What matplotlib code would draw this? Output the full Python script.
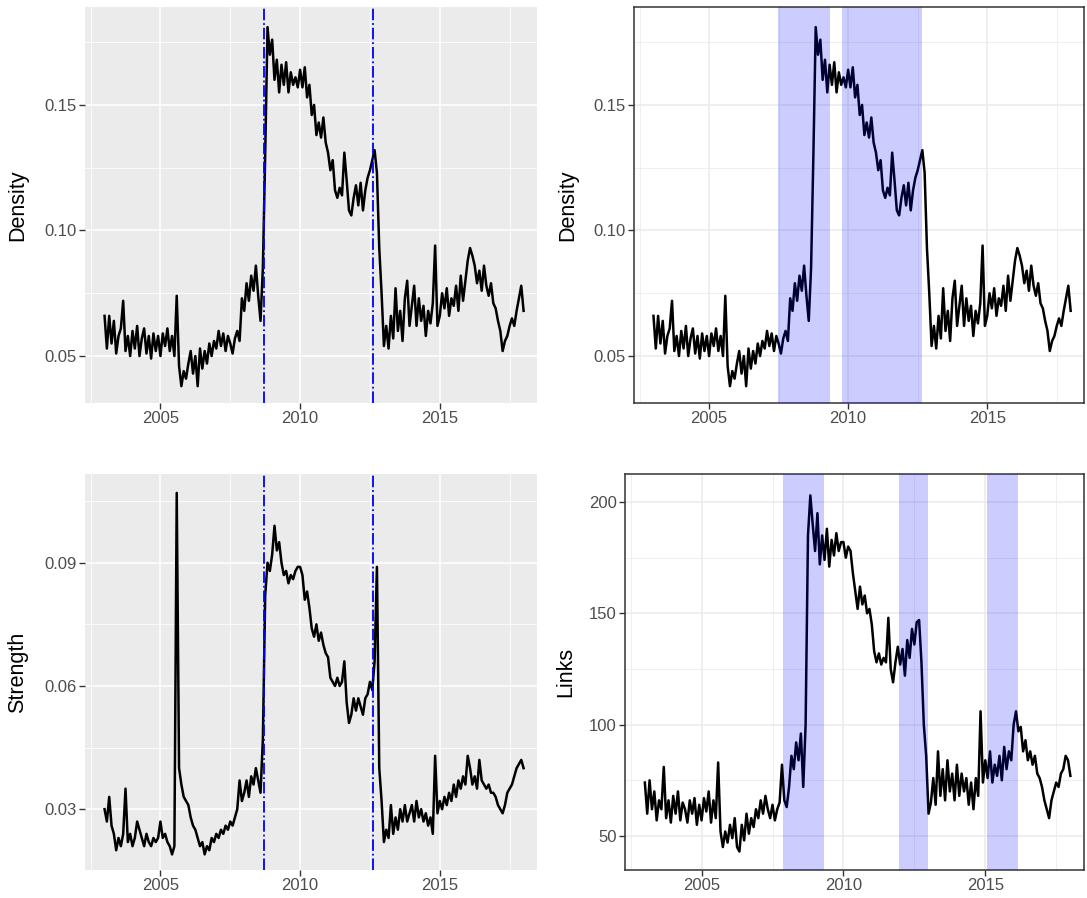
import numpy as np
import matplotlib
matplotlib.use('Agg')
import matplotlib.pyplot as plt
from matplotlib.ticker import FixedLocator

plt.rcParams['font.family'] = ['Liberation Sans', 'DejaVu Sans']

# monthly observations, Jan 2003 .. Jan 2018
density = [
    0.066, 0.053, 0.066, 0.055, 0.064, 0.051, 0.058, 0.061, 0.072, 0.052, 0.058, 0.050,  # 2003
    0.060, 0.053, 0.062, 0.050, 0.057, 0.061, 0.051, 0.058, 0.049, 0.059, 0.052, 0.058,  # 2004
    0.050, 0.059, 0.054, 0.061, 0.052, 0.058, 0.050, 0.074, 0.046, 0.038, 0.044, 0.041,  # 2005
    0.047, 0.052, 0.043, 0.050, 0.038, 0.053, 0.045, 0.052, 0.047, 0.055, 0.050, 0.056,  # 2006
    0.053, 0.060, 0.054, 0.059, 0.052, 0.058, 0.055, 0.051, 0.057, 0.060, 0.056, 0.073,  # 2007
    0.068, 0.079, 0.072, 0.082, 0.076, 0.086, 0.074, 0.064, 0.085, 0.130, 0.181, 0.170,  # 2008
    0.176, 0.160, 0.168, 0.155, 0.166, 0.158, 0.167, 0.155, 0.163, 0.158, 0.161, 0.157,  # 2009
    0.164, 0.157, 0.165, 0.153, 0.158, 0.146, 0.150, 0.138, 0.143, 0.137, 0.145, 0.135,  # 2010
    0.131, 0.124, 0.128, 0.116, 0.113, 0.117, 0.114, 0.131, 0.120, 0.108, 0.106, 0.113,  # 2011
    0.118, 0.110, 0.119, 0.108, 0.116, 0.121, 0.124, 0.128, 0.132, 0.123, 0.093, 0.075,  # 2012
    0.054, 0.062, 0.053, 0.066, 0.057, 0.077, 0.060, 0.068, 0.056, 0.073, 0.080, 0.062,  # 2013
    0.070, 0.078, 0.062, 0.073, 0.064, 0.070, 0.058, 0.068, 0.063, 0.071, 0.094, 0.062,  # 2014
    0.066, 0.075, 0.069, 0.077, 0.066, 0.073, 0.070, 0.078, 0.068, 0.082, 0.072, 0.080,  # 2015
    0.088, 0.093, 0.090, 0.086, 0.079, 0.084, 0.076, 0.086, 0.078, 0.074, 0.079, 0.071,  # 2016
    0.069, 0.064, 0.060, 0.052, 0.056, 0.058, 0.062, 0.065, 0.062, 0.068, 0.073, 0.078,  # 2017
    0.068,
]

strength = [
    0.030, 0.027, 0.033, 0.026, 0.024, 0.020, 0.023, 0.021, 0.024, 0.035, 0.022, 0.024,  # 2003
    0.021, 0.023, 0.027, 0.025, 0.023, 0.021, 0.024, 0.022, 0.021, 0.023, 0.022, 0.023,  # 2004
    0.027, 0.023, 0.024, 0.022, 0.021, 0.019, 0.021, 0.107, 0.040, 0.036, 0.033, 0.032,  # 2005
    0.031, 0.028, 0.026, 0.025, 0.023, 0.021, 0.022, 0.019, 0.021, 0.020, 0.023, 0.022,  # 2006
    0.024, 0.023, 0.025, 0.024, 0.026, 0.025, 0.027, 0.026, 0.028, 0.030, 0.037, 0.032,  # 2007
    0.034, 0.037, 0.033, 0.038, 0.036, 0.040, 0.037, 0.034, 0.047, 0.082, 0.090, 0.088,  # 2008
    0.092, 0.099, 0.093, 0.095, 0.090, 0.087, 0.088, 0.085, 0.087, 0.086, 0.088, 0.089,  # 2009
    0.089, 0.087, 0.081, 0.083, 0.079, 0.074, 0.072, 0.075, 0.071, 0.073, 0.070, 0.068,  # 2010
    0.067, 0.062, 0.061, 0.060, 0.062, 0.060, 0.061, 0.066, 0.056, 0.051, 0.053, 0.057,  # 2011
    0.054, 0.057, 0.055, 0.053, 0.057, 0.058, 0.061, 0.059, 0.066, 0.089, 0.040, 0.032,  # 2012
    0.022, 0.025, 0.023, 0.031, 0.024, 0.028, 0.025, 0.030, 0.027, 0.031, 0.027, 0.029,  # 2013
    0.031, 0.027, 0.032, 0.028, 0.030, 0.027, 0.029, 0.026, 0.028, 0.024, 0.043, 0.029,  # 2014
    0.032, 0.030, 0.033, 0.031, 0.034, 0.032, 0.036, 0.033, 0.037, 0.035, 0.038, 0.036,  # 2015
    0.043, 0.040, 0.036, 0.038, 0.035, 0.042, 0.037, 0.036, 0.035, 0.036, 0.034, 0.034,  # 2016
    0.033, 0.031, 0.030, 0.029, 0.031, 0.034, 0.035, 0.036, 0.038, 0.040, 0.041, 0.042,  # 2017
    0.040,
]

links = [
    74, 60, 75, 62, 70, 57, 66, 62, 81, 58, 66, 56,            # 2003
    68, 60, 70, 57, 65, 62, 56, 66, 60, 67, 55, 64,            # 2004
    57, 67, 61, 70, 56, 66, 58, 83, 52, 45, 52, 47,            # 2005
    55, 49, 58, 45, 43, 55, 48, 60, 51, 58, 54, 62,            # 2006
    58, 66, 60, 68, 62, 58, 64, 57, 62, 65, 82, 66,            # 2007
    63, 72, 86, 80, 92, 84, 96, 72, 100, 185, 203, 190,        # 2008
    178, 195, 172, 185, 174, 188, 171, 183, 176, 186, 178, 182,  # 2009
    182, 175, 180, 178, 168, 160, 152, 162, 154, 158, 150, 152,  # 2010
    145, 133, 128, 132, 127, 130, 128, 148, 125, 119, 128, 135,  # 2011
    127, 134, 122, 138, 130, 143, 136, 146, 147, 128, 100, 86,   # 2012
    60, 65, 76, 64, 88, 68, 80, 66, 84, 70, 78, 66,            # 2013
    82, 68, 78, 70, 76, 64, 74, 62, 76, 68, 106, 74,           # 2014
    84, 76, 88, 74, 82, 77, 86, 75, 90, 80, 88, 84,            # 2015
    100, 106, 97, 99, 88, 93, 84, 88, 82, 86, 78, 76,          # 2016
    72, 66, 62, 58, 66, 70, 74, 72, 78, 80, 86, 84,            # 2017
    77,
]

years = 2003.0 + np.arange(len(density)) / 12.0

break_dates = [2008.69, 2012.62]                       # dashed lines, left column
density_bands = [(2007.47, 2009.35), (2009.77, 2012.65)]
links_bands = [(2007.86, 2009.33), (2011.97, 2012.99), (2015.07, 2016.16)]

W, H = 1087, 898
fig = plt.figure(figsize=(W / 100, H / 100), dpi=100)


def add_ax(x0, y0, x1, y1):
    return fig.add_axes([x0 / W, 1 - y1 / H, (x1 - x0) / W, (y1 - y0) / H])


def style(ax, grey, yticks, yminor, fmt, ylim):
    ax.set_xlim(2002.3, 2018.48)
    ax.set_ylim(*ylim)
    ax.xaxis.set_major_locator(FixedLocator([2005, 2010, 2015]))
    ax.xaxis.set_minor_locator(FixedLocator([2002.5, 2007.5, 2012.5, 2017.5]))
    ax.yaxis.set_major_locator(FixedLocator(yticks))
    ax.yaxis.set_minor_locator(FixedLocator(yminor))
    ax.set_yticklabels([fmt.format(v) for v in yticks])
    ax.set_xticklabels(['2005', '2010', '2015'])
    gcol = 'white' if grey else '#EBEBEB'
    ax.set_facecolor('#EBEBEB' if grey else 'white')
    ax.grid(True, which='major', color=gcol, lw=1.1, zorder=0)
    ax.grid(True, which='minor', color=gcol, lw=0.55, zorder=0)
    ax.set_axisbelow(True)
    ax.tick_params(which='major', length=4, width=1, color='#333333',
                   labelcolor='#4D4D4D', labelsize=12, pad=2)
    ax.tick_params(which='minor', length=0)
    for s in ax.spines.values():
        if grey:
            s.set_visible(False)
        else:
            s.set_color('#333333')
            s.set_linewidth(1.1)


# top left
ax = add_ax(85, 7, 537, 403)
ax.plot(years, density, color='black', lw=1.8, zorder=3)
for d in break_dates:
    ax.axvline(d, color='blue', ls='-.', lw=1.3, zorder=4)
style(ax, True, [0.05, 0.10, 0.15], [0.075, 0.125, 0.175], '{:.2f}', (0.0313, 0.189))
fig.text(18 / W, 1 - 205 / H, 'Density', rotation=90, ha='center', va='center', fontsize=15.5)

# top right
ax = add_ax(634, 7, 1084, 403)
ax.plot(years, density, color='black', lw=1.8, zorder=3)
for a, b in density_bands:
    ax.axvspan(a, b, color='blue', alpha=0.2, lw=0, zorder=4)
style(ax, False, [0.05, 0.10, 0.15], [0.075, 0.125, 0.175], '{:.2f}', (0.0313, 0.189))
fig.text(568 / W, 1 - 205 / H, 'Density', rotation=90, ha='center', va='center', fontsize=15.5)

# bottom left
ax = add_ax(85, 474, 537, 870)
ax.plot(years, strength, color='black', lw=1.8, zorder=3)
for d in break_dates:
    ax.axvline(d, color='blue', ls='-.', lw=1.3, zorder=4)
style(ax, True, [0.03, 0.06, 0.09], [0.045, 0.075, 0.105], '{:.2f}', (0.0152, 0.1116))
fig.text(18 / W, 1 - 672 / H, 'Strength', rotation=90, ha='center', va='center', fontsize=15.5)

# bottom right
ax = add_ax(625, 474, 1084, 870)
ax.plot(years, links, color='black', lw=1.8, zorder=3)
for a, b in links_bands:
    ax.axvspan(a, b, color='blue', alpha=0.2, lw=0, zorder=4)
style(ax, False, [50, 100, 150, 200], [75, 125, 175], '{:.0f}', (34.7, 212.6))
fig.text(566 / W, 1 - 672 / H, 'Links', rotation=90, ha='center', va='center', fontsize=15.5)

fig.savefig('out.png', dpi=100)
